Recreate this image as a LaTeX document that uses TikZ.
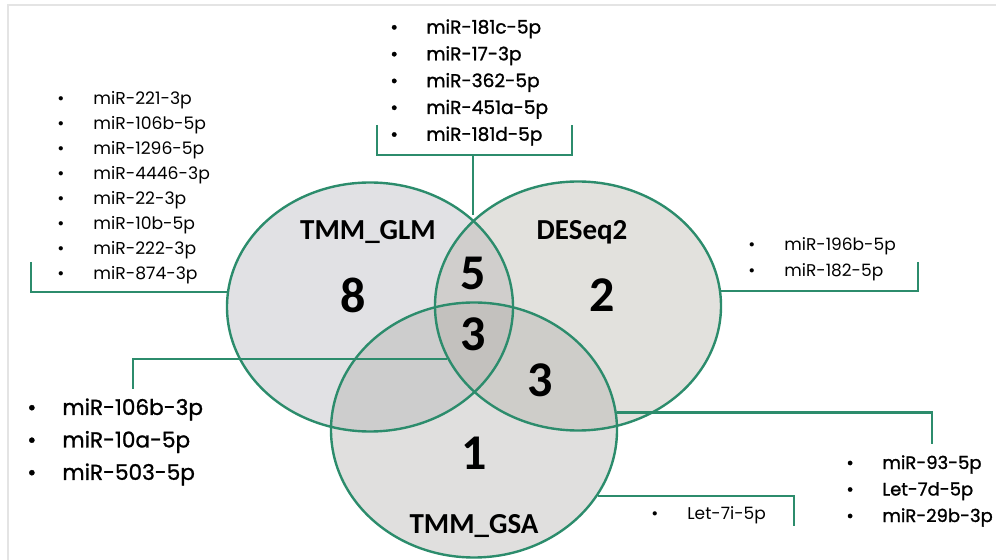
\documentclass[tikz,border=0pt]{standalone}
\usepackage{fontspec}
\setmainfont{Poppins}
\newfontfamily\setfont{Carlito}
\newfontfamily\heavyfont[FakeBold=1.2]{Poppins}
\usetikzlibrary{shapes.geometric,positioning,backgrounds}

\definecolor{vennGreen}{RGB}{44,140,108}
\definecolor{frameGray}{RGB}{228,228,228}
\definecolor{glmFill}{RGB}{176,177,184}
\definecolor{deseqFill}{RGB}{180,176,166}
\definecolor{gsaFill}{RGB}{174,172,168}

% one bullet line of a miRNA list
\newcommand{\mir}[1]{\makebox[18pt][l]{\textbullet}#1}

\begin{document}
\begin{tikzpicture}[x=0.5pt,y=-0.5pt]

\tikzset{
	vennSet/.style={
		ellipse,
		draw=vennGreen,
		line width=1.2pt,
		inner sep=0pt,
		minimum width=143pt,
		minimum height=124.5pt
	}
}

\tikzset{
	link/.style={
		draw=vennGreen,
		line width=1.1pt
	}
}

\tikzset{
	mirList/.style={
		anchor=west,
		inner sep=0pt,
		align=left
	}
}

\tikzset{
	setName/.style={
		font=\setfont\bfseries\fontsize{14.5}{17}\selectfont
	}
}

\tikzset{
	setCount/.style={
		font=\setfont\bfseries\fontsize{25}{28}\selectfont
	}
}

\useasboundingbox (0,0) rectangle (996,560);
\draw[frameGray, line width=1pt] (996,5) -- (8,5) -- (8,560);

\node[vennSet](glm) at (370,307) {};
\node[vennSet](deseq) at (578,306) {};
\node[vennSet, minimum height=127.5pt](gsa) at (474,430) {};

\begin{scope}[on background layer]
\fill[glmFill, fill opacity=0.38] (glm.center) ellipse [x radius=143, y radius=124.5];
\fill[deseqFill, fill opacity=0.38] (deseq.center) ellipse [x radius=143, y radius=124.5];
\fill[gsaFill, fill opacity=0.38] (gsa.center) ellipse [x radius=143, y radius=127.5];
\end{scope}

\node[setName](glmName) at (368,232) {TMM\_GLM};
\node[setName](deseqName) at (582,232) {DESeq2};
\node[setName](gsaName) at (474,526) {TMM\_GSA};

\node[setCount](n8) at (353,295) {8};
\node[setCount](n5) at (473,273) {5};
\node[setCount](n2) at (602,295) {2};
\node[setCount](n3) at (473,334) {3};
\node[setCount](n3b) at (540,380) {3};
\node[setCount](n1) at (474,453) {1};

% free ends of the brackets
\coordinate (topL) at (377,125);
\coordinate (topR) at (572,125);
\coordinate (topJoin) at (473,155);
\coordinate (glmDes) at (473,215);
\coordinate (glmTag) at (31,262);
\coordinate (desTag) at (918,262);
\coordinate (coreTag) at (133,389);
\coordinate (pairTag) at (932,444);
\coordinate (gsaTag) at (794,526);

\path[link] (topL) |- (topJoin) -| (topR);
\path[link] (topJoin) -- (glmDes);
\path[link] (glmTag) |- (glm.174);
\path[link] (desTag) |- (deseq.6);
\path[link] (coreTag) |- (deseq.202);
\path[link] (pairTag) |- (gsa.7);
\path[link] (gsaTag) |- (gsa.332);

\node[mirList, font=\heavyfont\fontsize{9.3}{13.4}\selectfont](topList) at (390,82.5) {%
\mir{miR-181c-5p}\\ \mir{miR-17-3p}\\ \mir{miR-362-5p}\\ \mir{miR-451a-5p}\\ \mir{miR-181d-5p}};

\node[mirList, font=\fontsize{8.6}{12.5}\selectfont](glmList) at (57,187.5) {%
\mir{miR-221-3p}\\ \mir{miR-106b-5p}\\ \mir{miR-1296-5p}\\ \mir{miR-4446-3p}\\
\mir{miR-22-3p}\\ \mir{miR-10b-5p}\\ \mir{miR-222-3p}\\ \mir{miR-874-3p}};

\node[mirList, font=\fontsize{8.5}{13}\selectfont](desList) at (748,259) {%
\mir{miR-196b-5p}\\ \mir{miR-182-5p}};

\node[mirList, font=\heavyfont\fontsize{10.8}{16.25}\selectfont](coreList) at (27,442) {%
\makebox[17.5pt][l]{\textbullet}miR-106b-3p\\ \makebox[17.5pt][l]{\textbullet}miR-10a-5p\\
\makebox[17.5pt][l]{\textbullet}miR-503-5p};

\node[mirList, font=\heavyfont\fontsize{9}{13.25}\selectfont](pairList) at (846,491) {%
\mir{miR-93-5p}\\ \mir{Let-7d-5p}\\ \mir{miR-29b-3p}};

\node[mirList, font=\fontsize{8.5}{13}\selectfont](gsaList) at (651,515) {%
\mir{Let-7i-5p}};

\end{tikzpicture}
\end{document}
